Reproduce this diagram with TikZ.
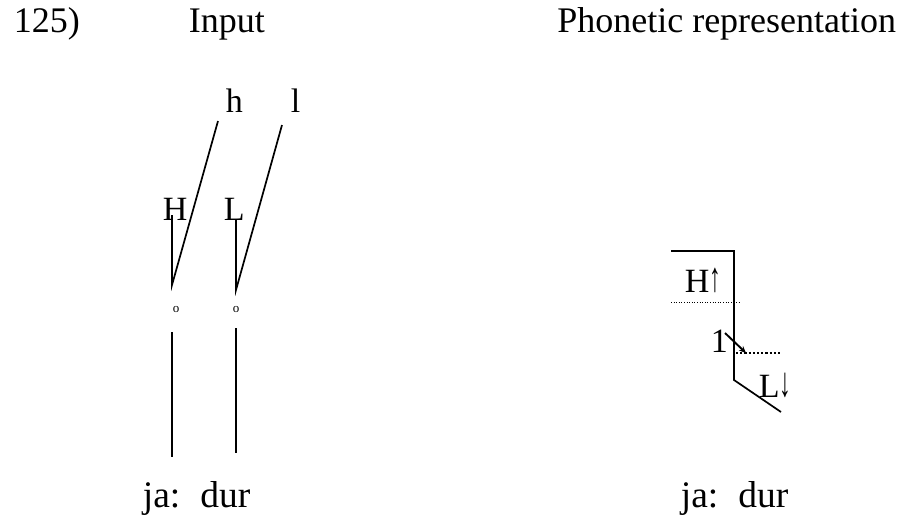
\documentclass[tikz,border=0pt]{standalone}
\usepackage{fontspec}
\usepackage{graphicx}
\setmainfont{Liberation Serif}
\usetikzlibrary{arrows.meta}
\newcommand\tonearrow[1]{\raisebox{1pt}{\scalebox{0.9}[1.6]{\fontsize{26}{28}\selectfont #1}}}
\begin{document}
\begin{tikzpicture}[x=1pt,y=-1pt, line width=1.7pt,
  txt/.style={font=\fontsize{34}{40}\selectfont, inner sep=0pt},
  head/.style={font=\fontsize{36}{40}\selectfont, inner sep=0pt},
  word/.style={font=\fontsize{37.5}{42}\selectfont, inner sep=0pt},
  small/.style={font=\fontsize{13}{15}\selectfont, inner sep=0pt},
  thindot/.style={line width=0.9pt, dash pattern=on 1pt off 1.6pt},
  thickdot/.style={line width=2.2pt, dash pattern=on 2.2pt off 2pt}]
\useasboundingbox (0,0) rectangle (899,517);
% header
\node[head, anchor=base west] (num) at (13,32) {125)};
\node[head, anchor=base west] (inp) at (188,32) {Input};
\node[head, anchor=base east] (pho) at (897,32) {Phonetic representation};
% input diagram
\node[txt, anchor=base west] (h) at (225,112) {h};
\node[txt, anchor=base west] (l) at (290,112) {l};
\node[txt, anchor=base west] (H) at (162,220) {H};
\node[txt, anchor=base west] (L) at (223,220) {L};
\coordinate (hb) at (218,121);
\coordinate (lb) at (282,125);
\coordinate (p1) at (172,285);
\coordinate (p2) at (236,290);
\coordinate (Hs) at (172,215);
\coordinate (Ls) at (236,219);
\draw (hb) -- (p1) -- (Hs);
\draw (lb) -- (p2) -- (Ls);
\node[small] (o1) at (176,309) {o};
\node[small] (o2) at (236,309) {o};
\coordinate (v1t) at (172,332);
\coordinate (v1b) at (172,457);
\coordinate (v2t) at (236,328);
\coordinate (v2b) at (236,453);
\draw (v1t) -- (v1b);
\draw (v2t) -- (v2b);
\node[word, anchor=base west] (jl) at (142,507) {ja:\hspace{20pt}dur};
% phonetic diagram
\coordinate (a1) at (671,251);
\coordinate (a2) at (734,251);
\coordinate (a3) at (734,380);
\coordinate (a4) at (781,412);
\draw (a1) -- (a2) -- (a3) -- (a4);
\node[txt, anchor=base west] (Hu) at (684,292) {H\tonearrow{↑}};
\coordinate (d1) at (671,302);
\coordinate (d2) at (739,302);
\draw[thindot] (d1) -- (d2);
\node[txt, anchor=base west] (one) at (710,352) {1};
\coordinate (r1) at (725,333);
\coordinate (r2) at (746,353);
\draw[line width=1.9pt, -{Stealth[length=7pt,width=6pt]}] (r1) -- (r2);
\coordinate (e1) at (736,353);
\coordinate (e2) at (780,353);
\draw[thickdot] (e1) -- (e2);
\node[txt, anchor=base west] (Ld) at (758,397) {L\tonearrow{↓}};
\node[word, anchor=base west] (jr) at (680,507) {ja:\hspace{20pt}dur};
\end{tikzpicture}
\end{document}
